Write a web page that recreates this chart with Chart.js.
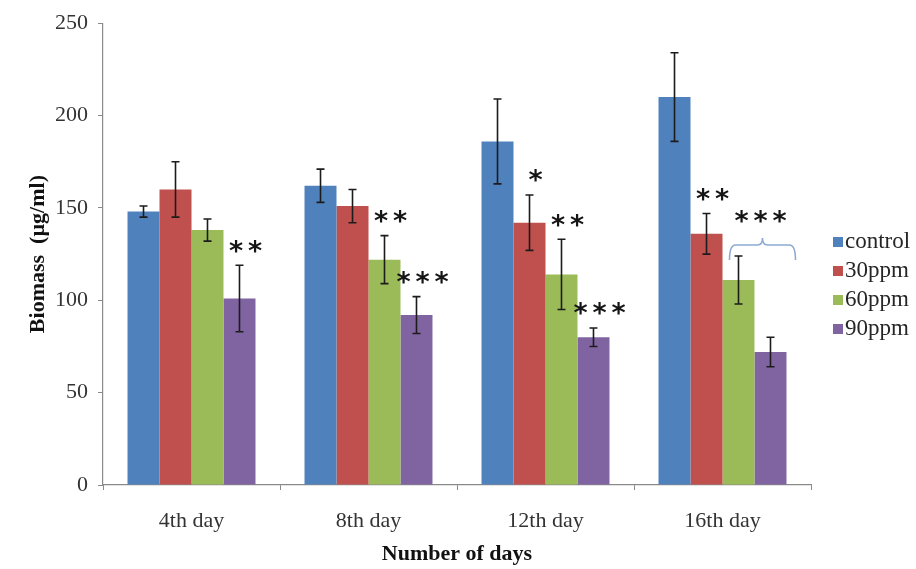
<!DOCTYPE html>
<html>
<head>
<meta charset="utf-8">
<script src="https://cdn.jsdelivr.net/npm/chart.js@4/dist/chart.umd.min.js"></script>
<style>
  html, body { margin: 0; padding: 0; background: #ffffff; }
  #wrap { width: 916px; height: 569px; }
</style>
</head>
<body>
<div id="wrap"><canvas id="chart" width="916" height="569"></canvas></div>
<script>
// Biomass (µg/ml) by day of exposure, mean ± SD
const categories = ['4th day', '8th day', '12th day', '16th day'];
const seriesNames = ['control', '30ppm', '60ppm', '90ppm'];

const controlMean = [148, 162, 186, 210];
const controlErr  = [3, 9, 23, 24];
const ppm30Mean   = [160, 151, 142, 136];
const ppm30Err    = [15, 9, 15, 11];
const ppm60Mean   = [138, 122, 114, 111];
const ppm60Err    = [6, 13, 19, 13];
const ppm90Mean   = [101, 92, 80, 72];
const ppm90Err    = [18, 10, 5, 8];

// significance marks above single bars
const controlSig = ['', '', '', ''];
const ppm30Sig   = ['', '', '*', '**'];
const ppm60Sig   = ['', '**', '**', ''];
const ppm90Sig   = ['**', '***', '***', ''];
// bracketed mark spanning 60ppm and 90ppm on the 16th day
const bracketDay = 3;
const bracketSeries = [2, 3];
const bracketSig = '***';

const yTicks = [0, 50, 100, 150, 200, 250];

const colors = ['#4F81BD', '#C0504D', '#9BBB59', '#8064A2'];
const means = [controlMean, ppm30Mean, ppm60Mean, ppm90Mean];
const errs = [controlErr, ppm30Err, ppm60Err, ppm90Err];
const sigs = [controlSig, ppm30Sig, ppm60Sig, ppm90Sig];

const SERIF = '"Liberation Serif", "Times New Roman", serif';
const STAR_FONT = 'bold 27px "DejaVu Sans", sans-serif';

function drawStars(ctx, text, cx, cy) {
  ctx.save();
  ctx.font = STAR_FONT;
  ctx.fillStyle = '#151515';
  ctx.textAlign = 'center';
  ctx.textBaseline = 'alphabetic';
  const m = ctx.measureText('*');
  const step = 19;
  const n = text.length;
  for (let k = 0; k < n; k++) {
    const x = cx + (k - (n - 1) / 2) * step;
    ctx.fillText('*', x, cy + (m.actualBoundingBoxAscent - m.actualBoundingBoxDescent) / 2);
  }
  ctx.restore();
}

const errorBars = {
  id: 'errorBars',
  afterDatasetsDraw(chart) {
    const ctx = chart.ctx;
    const y = chart.scales.y;
    ctx.save();
    ctx.strokeStyle = '#1c1c1c';
    ctx.lineWidth = 1.6;
    chart.data.datasets.forEach((ds, i) => {
      const meta = chart.getDatasetMeta(i);
      meta.data.forEach((bar, j) => {
        const m = means[i][j], e = errs[i][j];
        const top = y.getPixelForValue(m + e);
        const bot = y.getPixelForValue(m - e);
        ctx.beginPath();
        ctx.moveTo(bar.x, top); ctx.lineTo(bar.x, bot);
        ctx.moveTo(bar.x - 4, top); ctx.lineTo(bar.x + 4, top);
        ctx.moveTo(bar.x - 4, bot); ctx.lineTo(bar.x + 4, bot);
        ctx.stroke();
      });
    });
    ctx.restore();
  }
};

const significance = {
  id: 'significance',
  afterDatasetsDraw(chart) {
    const ctx = chart.ctx;
    const y = chart.scales.y;
    chart.data.datasets.forEach((ds, i) => {
      const meta = chart.getDatasetMeta(i);
      meta.data.forEach((bar, j) => {
        const s = sigs[i][j];
        if (!s) return;
        const top = y.getPixelForValue(means[i][j] + errs[i][j]);
        drawStars(ctx, s, bar.x + 6, top - 19);
      });
    });
    // brace over the grouped bars
    const a = chart.getDatasetMeta(bracketSeries[0]).data[bracketDay];
    const b = chart.getDatasetMeta(bracketSeries[1]).data[bracketDay];
    const x0 = a.x - 9, x1 = b.x + 25;
    const top = y.getPixelForValue(means[bracketSeries[0]][bracketDay] + errs[bracketSeries[0]][bracketDay]);
    const yb = top + 4, yl = yb - 15, yp = yl - 7;
    const xm = (x0 + x1) / 2;
    ctx.save();
    ctx.strokeStyle = '#8DAAD4';
    ctx.lineWidth = 1.6;
    ctx.beginPath();
    ctx.moveTo(x0, yb);
    ctx.quadraticCurveTo(x0, yl, x0 + 6, yl);
    ctx.lineTo(xm - 5, yl);
    ctx.quadraticCurveTo(xm, yl, xm, yp);
    ctx.quadraticCurveTo(xm, yl, xm + 5, yl);
    ctx.lineTo(x1 - 6, yl);
    ctx.quadraticCurveTo(x1, yl, x1, yb);
    ctx.stroke();
    ctx.restore();
    drawStars(ctx, bracketSig, xm - 2, yp - 21);
  }
};

const sideLegend = {
  id: 'sideLegend',
  afterDraw(chart) {
    const ctx = chart.ctx;
    const x = chart.chartArea.right + 22;
    const y0 = 242, gap = 29;
    ctx.save();
    ctx.font = '23px ' + SERIF;
    ctx.textBaseline = 'middle';
    ctx.textAlign = 'left';
    chart.data.datasets.forEach((ds, i) => {
      const yy = y0 + i * gap;
      ctx.fillStyle = ds.backgroundColor;
      ctx.fillRect(x, yy - 5, 10, 10);
      ctx.fillStyle = '#262626';
      ctx.fillText(ds.label, x + 12, yy);
    });
    ctx.restore();
  }
};

new Chart(document.getElementById('chart'), {
  type: 'bar',
  data: {
    labels: categories,
    datasets: seriesNames.map((name, i) => ({
      label: name,
      data: means[i],
      backgroundColor: colors[i],
      borderWidth: 0,
      barPercentage: 1.0,
      categoryPercentage: 0.723
    }))
  },
  options: {
    responsive: false,
    animation: false,
    devicePixelRatio: 1,
    layout: { padding: { left: 0, top: 23, right: 105, bottom: 0 } },
    plugins: { legend: { display: false }, tooltip: { enabled: false } },
    scales: {
      x: {
        afterFit(scale) { scale.height = 84; },
        grid: { display: true, drawOnChartArea: false, tickLength: 5, color: '#8a8a8a', offset: true },
        border: { color: '#8a8a8a', width: 1.2 },
        ticks: { font: { family: SERIF, size: 22 }, color: '#333', padding: 18 },
        title: {
          display: true, text: 'Number of days',
          font: { family: SERIF, size: 22, weight: 'bold' }, color: '#111',
          padding: { top: 0, bottom: 1 }
        }
      },
      y: {
        min: 0, max: 250,
        afterFit(scale) { scale.width = 103; },
        afterBuildTicks(scale) { scale.ticks = yTicks.map(v => ({ value: v })); },
        grid: { display: true, drawOnChartArea: false, tickLength: 5, color: '#8a8a8a' },
        border: { color: '#8a8a8a', width: 1.2 },
        ticks: { font: { family: SERIF, size: 22 }, color: '#333', padding: 10 },
        title: {
          display: true, text: 'Biomass  (µg/ml)',
          font: { family: SERIF, size: 22, weight: 'bold' }, color: '#111',
          padding: { top: 25, bottom: 0 }
        }
      }
    }
  },
  plugins: [errorBars, significance, sideLegend]
});
</script>
</body>
</html>
